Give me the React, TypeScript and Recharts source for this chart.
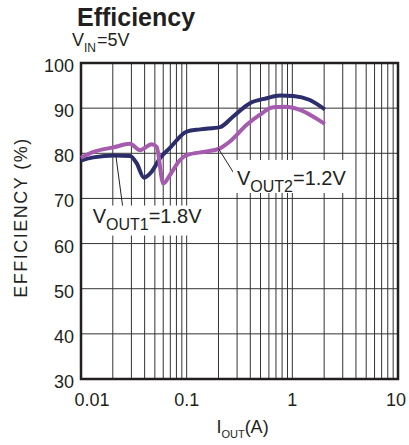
import React from 'react';
import { LineChart, Line, XAxis, YAxis, CartesianGrid, ReferenceArea, ReferenceLine, ReferenceDot, Label } from 'recharts';

const FONT = '"Liberation Sans", Arial, Helvetica, sans-serif';
const INK = '#231f20';

// I_OUT (A) and efficiency (%)
const vout1Current = [0.01, 0.0131, 0.021, 0.0291, 0.0336, 0.0394, 0.0466, 0.0559, 0.0695, 0.1, 0.134, 0.207, 0.274, 0.397, 0.571, 0.763, 1.02, 1.466, 2.03];
const vout1Eff = [78.4, 79.1, 79.5, 79.4, 77.8, 74.6, 75.9, 78.9, 81.2, 84.8, 85.3, 85.8, 88.1, 91.1, 92.2, 92.8, 92.7, 91.8, 89.7];

const vout2Current = [0.01, 0.0131, 0.0202, 0.0291, 0.0362, 0.0466, 0.052, 0.0601, 0.0695, 0.0863, 0.1, 0.154, 0.2065, 0.2565, 0.37, 0.49, 0.658, 0.85, 1.18, 1.58, 2.03];
const vout2Eff = [79.0, 80.3, 81.3, 82.1, 80.7, 82.0, 81.4, 73.3, 75.2, 78.5, 79.6, 80.4, 81.1, 82.6, 86.3, 88.5, 90.2, 90.3, 89.6, 88.1, 86.5];

// log grid: 1..9 in every decade
const xGridTicks = [
  0.01, 0.02, 0.03, 0.04, 0.05, 0.06, 0.07, 0.08, 0.09,
  0.1, 0.2, 0.3, 0.4, 0.5, 0.6, 0.7, 0.8, 0.9,
  1, 2, 3, 4, 5, 6, 7, 8, 9, 10,
];
const xDecades = [0.01, 0.1, 1, 10];
const xDecadeLabels = ['0.01', '0.1', '1', '10'];
const yTicks = [30, 40, 50, 60, 70, 80, 90, 100];

const vout1Data = vout1Current.map((x, i) => ({ x, eff: vout1Eff[i] }));
const vout2Data = vout2Current.map((x, i) => ({ x, eff: vout2Eff[i] }));

const XTick = (props: any) => {
  const { x, y, payload } = props;
  const idx = xDecades.findIndex((d) => Math.abs(d - payload.value) < 1e-9);
  if (idx < 0) return <g />;
  const shift = idx === 0 ? 11 : idx === xDecades.length - 1 ? -2 : 0;
  return (
    <text x={x + shift} y={y} dy={13} textAnchor="middle" fontFamily={FONT} fontSize={18} fill={INK}>
      {xDecadeLabels[idx]}
    </text>
  );
};

const YTick = (props: any) => {
  const { x, y, payload } = props;
  return (
    <text x={x} y={y} dy={9} textAnchor="end" fontFamily={FONT} fontSize={18} fill={INK}>
      {payload.value}
    </text>
  );
};

const Callout = (props: any) => {
  const { cx, cy, sub, rest, tx, ty, bx, by, bw, bh } = props;
  if (cx == null || cy == null) return <g />;
  return (
    <g>
      <rect x={cx + bx} y={cy + by} width={bw} height={bh} fill="#fff" />
      <text x={cx + tx} y={cy + ty} fontFamily={FONT} fontSize={20} fill={INK}>
        <tspan>V</tspan>
        <tspan fontSize={16} dy={7}>{sub}</tspan>
        <tspan dy={-7}>{rest}</tspan>
      </text>
    </g>
  );
};

export default function App() {
  return (
    <div style={{ position: 'absolute', left: 0, top: 0, width: 409, height: 445, background: '#fff' }}>
      <LineChart width={409} height={445} margin={{ top: 63, right: 11, bottom: 0, left: 0 }}>
        <CartesianGrid stroke="#333" strokeWidth={1} />
        <XAxis
          dataKey="x"
          type="number"
          scale="log"
          domain={[0.01, 10]}
          ticks={xGridTicks}
          interval={0}
          axisLine={false}
          tickLine={false}
          tickSize={0}
          tickMargin={14}
          tick={<XTick />}
          height={66}
          allowDuplicatedCategory={false}
        >
          <Label
            content={({ viewBox }: any) => (
              <text x={viewBox.x + viewBox.width / 2 + 3} y={viewBox.y + 54} textAnchor="middle" fontFamily={FONT} fontSize={18} fill={INK}>
                <tspan>I</tspan>
                <tspan fontSize={11} dy={5}>OUT</tspan>
                <tspan dy={-5}>(A)</tspan>
              </text>
            )}
          />
        </XAxis>
        <YAxis
          type="number"
          domain={[30, 100]}
          ticks={yTicks}
          interval={0}
          width={81}
          axisLine={false}
          tickLine={false}
          tickSize={0}
          tickMargin={7}
          tick={<YTick />}
        >
          <Label
            content={({ viewBox }: any) => {
              const cy = viewBox.y + viewBox.height / 2 - 3.5;
              return (
                <text
                  x={27}
                  y={cy}
                  transform={`rotate(-90, 27, ${cy})`}
                  textAnchor="middle"
                  fontFamily={FONT}
                  fontSize={18}
                  letterSpacing={1.5}
                  fill={INK}
                >
                  EFFICIENCY (%)
                </text>
              );
            }}
          />
        </YAxis>
        <ReferenceArea x1={0.01} x2={10} y1={30} y2={100} fill="none" stroke={INK} strokeWidth={2.5} ifOverflow="visible" />
        <Line data={vout1Data} dataKey="eff" name="VOUT1=1.8V" type="monotone" stroke="#2c2d6b" strokeWidth={4} dot={false} activeDot={false} isAnimationActive={false} strokeLinejoin="round" />
        <Line data={vout2Data} dataKey="eff" name="VOUT2=1.2V" type="monotone" stroke="#a65cae" strokeWidth={4} dot={false} activeDot={false} isAnimationActive={false} strokeLinejoin="round" />
        <ReferenceDot
          x={0.0248}
          y={68.2}
          r={0}
          ifOverflow="visible"
          shape={(p: any) => <Callout {...p} sub="OUT1" rest="=1.8V" tx={-30} ty={16} bx={-35} by={-1} bw={120} bh={30} />}
        />
        <ReferenceDot
          x={0.2864}
          y={75.2}
          r={0}
          ifOverflow="visible"
          shape={(p: any) => <Callout {...p} sub="OUT2" rest="=1.2V" tx={2} ty={10} bx={-2} by={-15} bw={119} bh={33} />}
        />
        <ReferenceLine segment={[{ x: 0.0214, y: 79.4 }, { x: 0.0248, y: 68.2 }]} stroke={INK} strokeWidth={1} ifOverflow="visible" />
        <ReferenceLine segment={[{ x: 0.199, y: 81.1 }, { x: 0.2864, y: 75.2 }]} stroke={INK} strokeWidth={1} ifOverflow="visible" />
      </LineChart>
      <svg width={409} height={60} style={{ position: 'absolute', left: 0, top: 0, pointerEvents: 'none' }}>
        <text x={77} y={26} fontFamily={FONT} fontSize={25} fontWeight="bold" fill={INK}>
          Efficiency
        </text>
        <text x={72} y={46} fontFamily={FONT} fontSize={18} fill={INK}>
          <tspan>V</tspan>
          <tspan fontSize={12} dy={6}>IN</tspan>
          <tspan dy={-6} dx={1}>=5V</tspan>
        </text>
      </svg>
    </div>
  );
}
